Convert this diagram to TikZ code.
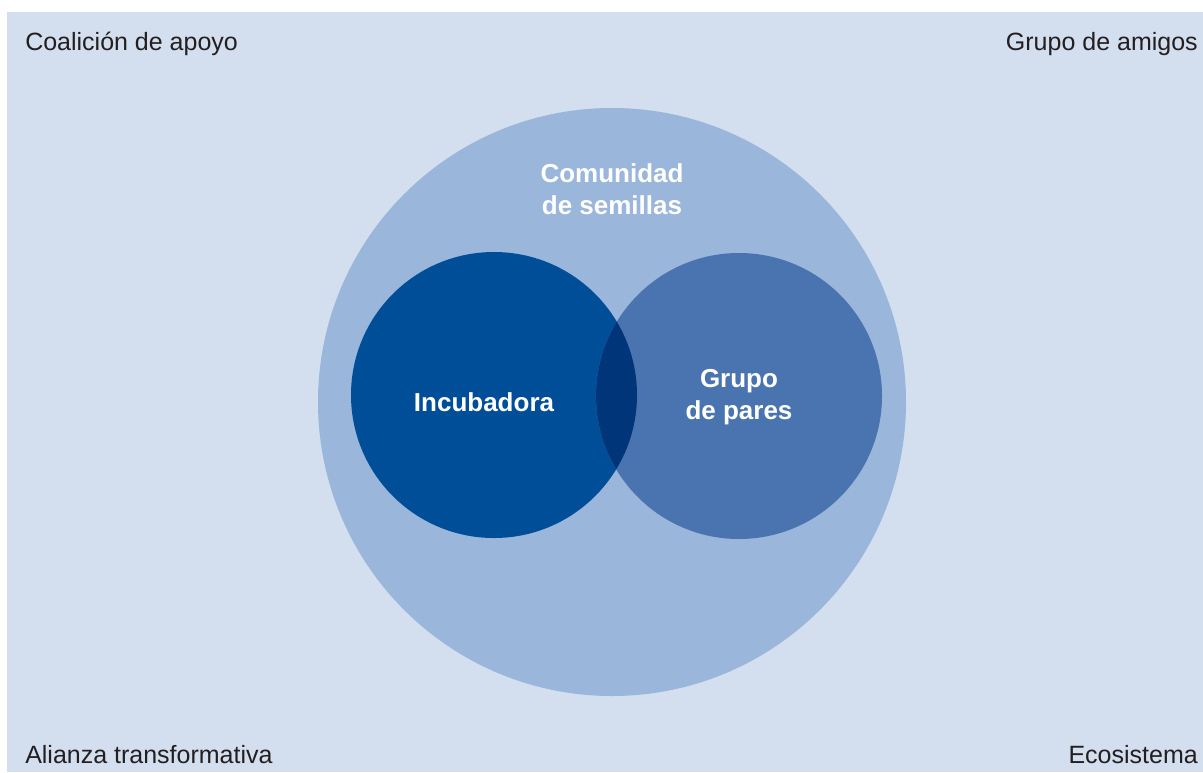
\documentclass[tikz,border=0pt]{standalone}
\usepackage{fontspec}
\setmainfont{Liberation Sans}
\usetikzlibrary{positioning}
\definecolor{bgblue}{HTML}{D3DFEE}
\definecolor{seedblue}{HTML}{9AB6DA}
\definecolor{incblue}{HTML}{004E98}
\definecolor{peerblue}{HTML}{4A74B0}
\definecolor{lensblue}{HTML}{00357A}
\definecolor{txtgray}{HTML}{231F20}
\tikzset{
  corner/.style={text=txtgray,font=\fontsize{18.75}{24}\selectfont,inner sep=0pt},
  inlabel/.style={text=white,font=\fontsize{19.5}{24}\selectfont\bfseries,align=center,inner sep=0pt}
}

\begin{document}
\begin{tikzpicture}[x=0.75pt,y=-0.75pt]
  \useasboundingbox (0,0) rectangle (1203,772);
  \fill[bgblue] (7,12) rectangle (1203,772);

  \fill[seedblue] (612,402) circle[radius=294];
  \fill[incblue] (494,395) circle[radius=143];
  \fill[peerblue] (739,396) circle[radius=143];
  \begin{scope}
    \clip (494,395) circle[radius=143];
    \fill[lensblue] (739,396) circle[radius=143];
  \end{scope}

  \node[corner,anchor=west] (coalicion) at (25,44) {Coalición de apoyo};
  \node[corner,anchor=east] (amigos) at (1198,44) {Grupo de amigos};
  \node[corner,anchor=west] (alianza) at (25,755) {Alianza transformativa};
  \node[corner,anchor=east] (ecosistema) at (1198,755) {Ecosistema};

  \node[inlabel] (semillas) at (612,189) {Comunidad\\de semillas};
  \node[inlabel] (incubadora) at (484,402) {Incubadora};
  \node[inlabel] (pares) at (739,397) {Grupo\\de pares};
\end{tikzpicture}
\end{document}
